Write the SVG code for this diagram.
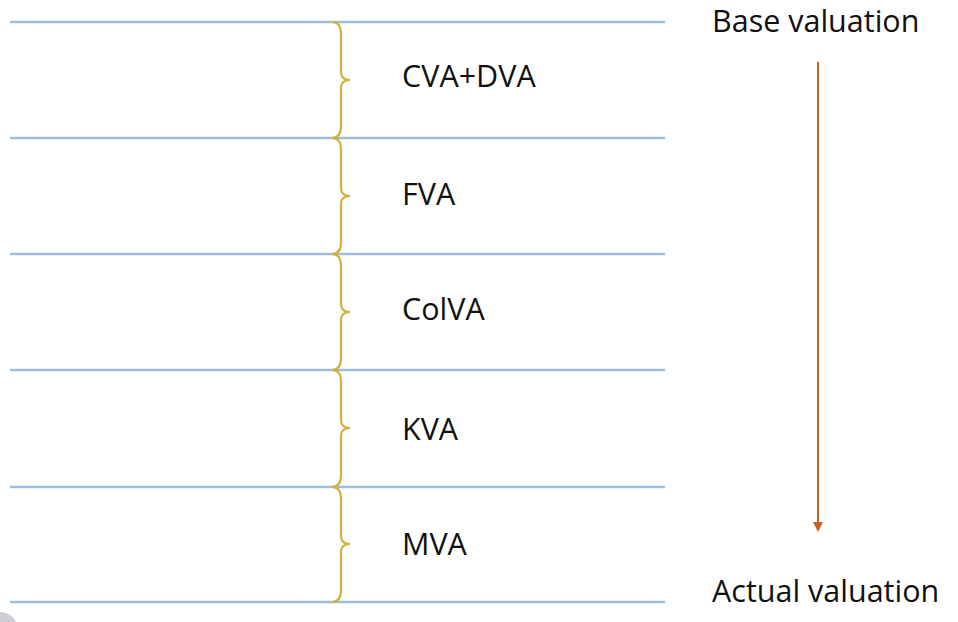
<svg xmlns="http://www.w3.org/2000/svg" width="958" height="622" viewBox="0 0 958 622">
<defs>
<style>
.ln{stroke:#9ABFE0;stroke-width:2.4;fill:none}
.br{stroke:#D2B13C;stroke-width:2.2;fill:none}
.lb{font-family:"Open Sans","Liberation Sans",sans-serif;font-size:30.5px;fill:#111}
.ar{stroke:#C5631E;stroke-width:2;fill:none}
</style>
<marker id="ah" markerWidth="10" markerHeight="10" refX="5" refY="5" orient="auto" markerUnits="userSpaceOnUse">
<path d="M0,0 L10,5 L0,10 z" fill="#C5631E"/>
</marker>
</defs>
<rect width="958" height="622" fill="#fff"/>
<circle cx="0" cy="630" r="18" fill="#B8B8C8" opacity="0.7"/>
<g id="lines">
<line class="ln" x1="10" y1="22" x2="665" y2="22"/>
<line class="ln" x1="10" y1="138" x2="665" y2="138"/>
<line class="ln" x1="10" y1="254" x2="665" y2="254"/>
<line class="ln" x1="10" y1="370" x2="665" y2="370"/>
<line class="ln" x1="10" y1="487" x2="665" y2="487"/>
<line class="ln" x1="10" y1="602" x2="665" y2="602"/>
</g>
<g id="n1"><path class="br" d="M332,22 Q341,22 341,34 L341,72 Q341,80 350,80 Q341,80 341,88 L341,126 Q341,138 332,138"/><text class="lb" x="402" y="87">CVA+DVA</text></g>
<g id="n2"><path class="br" d="M332,138 Q341,138 341,150 L341,188 Q341,196 350,196 Q341,196 341,204 L341,242 Q341,254 332,254"/><text class="lb" x="402" y="205">FVA</text></g>
<g id="n3"><path class="br" d="M332,254 Q341,254 341,266 L341,304 Q341,312 350,312 Q341,312 341,320 L341,358 Q341,370 332,370"/><text class="lb" x="402" y="320">ColVA</text></g>
<g id="n4"><path class="br" d="M332,370 Q341,370 341,382 L341,420 Q341,428 350,428 Q341,428 341,436 L341,475 Q341,487 332,487"/><text class="lb" x="402" y="440">KVA</text></g>
<g id="n5"><path class="br" d="M332,487 Q341,487 341,499 L341,536 Q341,544 350,544 Q341,544 341,552 L341,590 Q341,602 332,602"/><text class="lb" x="402" y="555">MVA</text></g>
<g id="base"><text class="lb" x="712" y="32">Base valuation</text></g>
<g id="actual"><text class="lb" x="712" y="602">Actual valuation</text></g>
<g id="connectors">
<line class="ar" x1="818" y1="62" x2="818" y2="527" marker-end="url(#ah)"/>
</g>
</svg>
